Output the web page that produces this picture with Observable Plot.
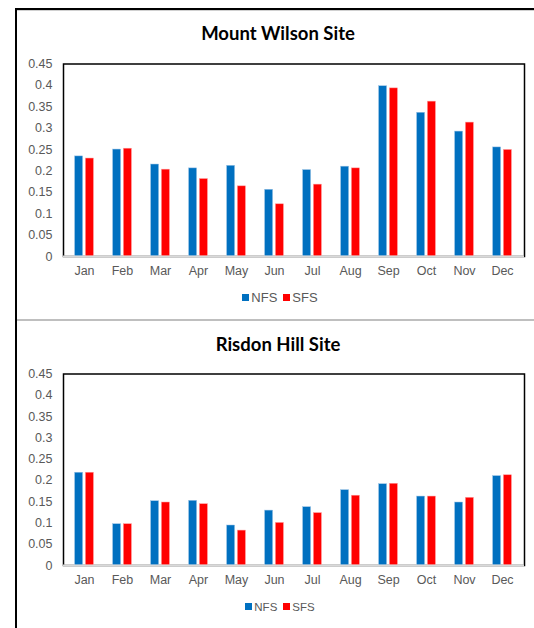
<!DOCTYPE html>
<html>
<head>
<meta charset="utf-8">
<script src="https://cdn.jsdelivr.net/npm/d3@7"></script>
<script src="https://cdn.jsdelivr.net/npm/@observablehq/plot@0.6"></script>
<style>
  html, body { margin: 0; padding: 0; background: #fff; }
  #page { position: relative; width: 534px; height: 628px; overflow: hidden; background: #fff; }
  .border-left { position: absolute; left: 15px; top: 8px; width: 2px; height: 640px; background: #000; }
  .border-top { position: absolute; left: 15px; top: 8px; width: 540px; height: 2px; background: #000; }
  .border-top-shadow { position: absolute; left: 17px; top: 10px; width: 540px; height: 1px; background: #d0d0d0; }
  .divider { position: absolute; left: 17px; top: 319px; width: 540px; height: 2px; background: #bfbfbf; }
  .title { position: absolute; left: 15px; width: 526px; text-align: center;
           font-family: Lato, "Open Sans", sans-serif; font-weight: 700; font-size: 18.5px; color: #000; }
  .chart { position: absolute; left: 0; }
  .legend { position: absolute; left: 0; width: 560px; text-align: center;
            font-family: "Liberation Sans", Arial, sans-serif; color: #595959; }
  .legend span.item { display: inline-flex; align-items: center; margin: 0 3px; }
  .legend span.sw { display: inline-block; width: 7px; height: 7px; margin-right: 2px; }
</style>
</head>
<body>
<div id="page">
  <div class="border-left"></div>
  <div class="border-top"></div>
  <div class="border-top-shadow"></div>
  <div class="divider"></div>
</div>
<script>
const months = ["Jan","Feb","Mar","Apr","May","Jun","Jul","Aug","Sep","Oct","Nov","Dec"];
const seriesNames = ["NFS","SFS"];
const seriesColors = ["#0070C0","#FF0000"];
const yTickValues = [0,0.05,0.1,0.15,0.2,0.25,0.3,0.35,0.4,0.45];
const yTickLabels = ["0","0.05","0.1","0.15","0.2","0.25","0.3","0.35","0.4","0.45"];

const titles = ["Mount Wilson Site","Risdon Hill Site"];
const mountWilsonNFS = [0.234,0.250,0.215,0.206,0.212,0.156,0.202,0.210,0.398,0.336,0.292,0.255];
const mountWilsonSFS = [0.229,0.252,0.203,0.181,0.164,0.122,0.168,0.206,0.393,0.362,0.313,0.249];
const risdonHillNFS  = [0.218,0.097,0.151,0.152,0.094,0.129,0.137,0.177,0.191,0.162,0.148,0.210];
const risdonHillSFS  = [0.218,0.097,0.148,0.144,0.082,0.100,0.123,0.164,0.192,0.162,0.159,0.212];

const page = document.getElementById("page");

function makeRows(nfs, sfs) {
  return months.map((m, i) => ({month: m, NFS: nfs[i], SFS: sfs[i]}));
}

function panel(cfg) {
  const t = document.createElement("div");
  t.className = "title";
  t.style.top = cfg.titleTop + "px";
  t.textContent = cfg.title;
  page.appendChild(t);

  const rows = makeRows(cfg.nfs, cfg.sfs);
  const barW = 8.5, off = 5.4;
  const step = (534 - 73) / 12;
  const padIn = 1 - barW / step;
  const chart = Plot.plot({
    width: 534,
    height: cfg.height,
    marginLeft: 63,
    marginRight: 10,
    marginTop: cfg.marginTop,
    marginBottom: cfg.marginBottom,
    style: {fontFamily: "'Liberation Sans', Arial, sans-serif", fontSize: "12.5px", color: "#595959", background: "transparent", overflow: "visible"},
    x: {domain: months, paddingInner: padIn, paddingOuter: padIn / 2, label: null, tickSize: 0, tickPadding: 10},
    y: {domain: [0, 0.45], ticks: yTickValues, tickFormat: (d) => yTickLabels[yTickValues.indexOf(d)] ?? String(d), label: null, tickSize: 0, tickPadding: 11},
    marks: [
      Plot.frame({stroke: "#000", strokeWidth: 1.5}),
      Plot.barY(rows, {x: "month", y: "NFS", fill: seriesColors[0], dx: -off, stroke: "#9cc3e6", strokeWidth: 0.5}),
      Plot.barY(rows, {x: "month", y: "SFS", fill: seriesColors[1], dx: off, stroke: "#ff9a9a", strokeWidth: 0.5}),
      Plot.ruleY([0], {stroke: "#d9d9d9", strokeWidth: 2})
    ]
  });
  chart.classList.add("chart");
  chart.style.top = cfg.svgTop + "px";
  page.appendChild(chart);

  const lg = document.createElement("div");
  lg.className = "legend";
  lg.style.top = cfg.legendTop + "px";
  lg.style.fontSize = cfg.legendFont + "px";
  seriesNames.forEach((s, i) => {
    const it = document.createElement("span");
    it.className = "item";
    const sw = document.createElement("span");
    sw.className = "sw";
    sw.style.background = seriesColors[i];
    it.appendChild(sw);
    it.appendChild(document.createTextNode(s));
    lg.appendChild(it);
  });
  page.appendChild(lg);
}

panel({title: titles[0], nfs: mountWilsonNFS, sfs: mountWilsonSFS,
       titleTop: 22, svgTop: 50, marginTop: 13.5, marginBottom: 30, height: 13.5 + 192.5 + 30,
       legendTop: 289, legendFont: 13});
panel({title: titles[1], nfs: risdonHillNFS, sfs: risdonHillSFS,
       titleTop: 333, svgTop: 360, marginTop: 13.5, marginBottom: 30, height: 13.5 + 191.5 + 30,
       legendTop: 600, legendFont: 11.5});
</script>
</body>
</html>
